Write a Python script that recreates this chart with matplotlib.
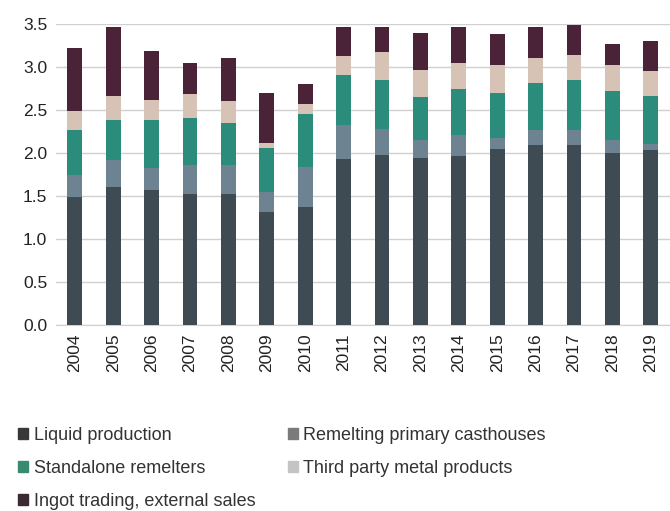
import numpy as np
import matplotlib.pyplot as plt
from matplotlib.patches import Patch

plt.rcParams['font.family'] = ['Liberation Sans', 'DejaVu Sans']

years = [str(y) for y in range(2004, 2020)]
# cumulative tops, converted to segment heights below
liquid = [1.49, 1.60, 1.57, 1.52, 1.52, 1.31, 1.37, 1.93, 1.98, 1.94, 1.96, 2.05, 2.09, 2.09, 2.00, 2.03]
remelt_top = [1.74, 1.92, 1.83, 1.86, 1.86, 1.55, 1.84, 2.33, 2.28, 2.15, 2.21, 2.17, 2.27, 2.27, 2.15, 2.11]
standalone_top = [2.27, 2.38, 2.38, 2.41, 2.35, 2.06, 2.45, 2.91, 2.85, 2.65, 2.74, 2.70, 2.81, 2.85, 2.72, 2.66]
third_top = [2.49, 2.66, 2.62, 2.69, 2.60, 2.12, 2.57, 3.13, 3.17, 2.97, 3.05, 3.02, 3.10, 3.14, 3.02, 2.95]
ingot_top = [3.22, 3.46, 3.19, 3.05, 3.11, 2.70, 2.80, 3.47, 3.46, 3.39, 3.47, 3.38, 3.46, 3.49, 3.27, 3.30]

tops = [liquid, remelt_top, standalone_top, third_top, ingot_top]
labels = ['Liquid production', 'Remelting primary casthouses', 'Standalone remelters',
          'Third party metal products', 'Ingot trading, external sales']
colors = ['#3e4b53', '#6e8391', '#2c8c7b', '#d6c3b5', '#4b2339']
# the legend swatches in the original are rendered in greyer tones
legend_colors = ['#383838', '#7a7a7a', '#3a8a70', '#c4c4c4', '#3a2a32']

fig = plt.figure(figsize=(6.7, 5.11), dpi=100)
ax = fig.add_axes([0.083, 0.364, 0.917, 0.589])

x = np.arange(len(years))
bottom = np.zeros(len(years))
for t, lab, c in zip(tops, labels, colors):
    h = np.array(t) - bottom
    ax.bar(x, h, bottom=bottom, width=0.39, color=c, label=lab, zorder=3)
    bottom = np.array(t)

ax.set_xlim(-0.5, 15.5)
ax.set_ylim(0, 3.5)
yt = np.arange(0, 3.51, 0.5)
ax.set_yticks(yt)
ax.set_yticklabels([f'{v:.1f}' for v in yt], fontsize=12.5, color='#222222')
ax.set_xticks(x)
ax.set_xticklabels(years, rotation=90, fontsize=12.5, color='#222222')
ax.tick_params(length=0, pad=6)
ax.yaxis.grid(True, color='#d0d0d0', linewidth=1, zorder=0)
for s in ['top', 'right', 'left']:
    ax.spines[s].set_visible(False)
ax.spines['bottom'].set_color('#d0d0d0')

# legend filled row by row, like the reference
order = [0, 2, 4, 1, 3]
handles = [Patch(color=legend_colors[i]) for i in order]
fig.legend(handles=handles, labels=[labels[i] for i in order],
           loc='upper left', bbox_to_anchor=(0.003, 0.196), ncol=2, frameon=False,
           fontsize=13, handlelength=0.55, handleheight=0.55, handletextpad=0.3,
           columnspacing=1.8, labelspacing=0.88, labelcolor='#333333')

fig.savefig('out.png', dpi=100)
